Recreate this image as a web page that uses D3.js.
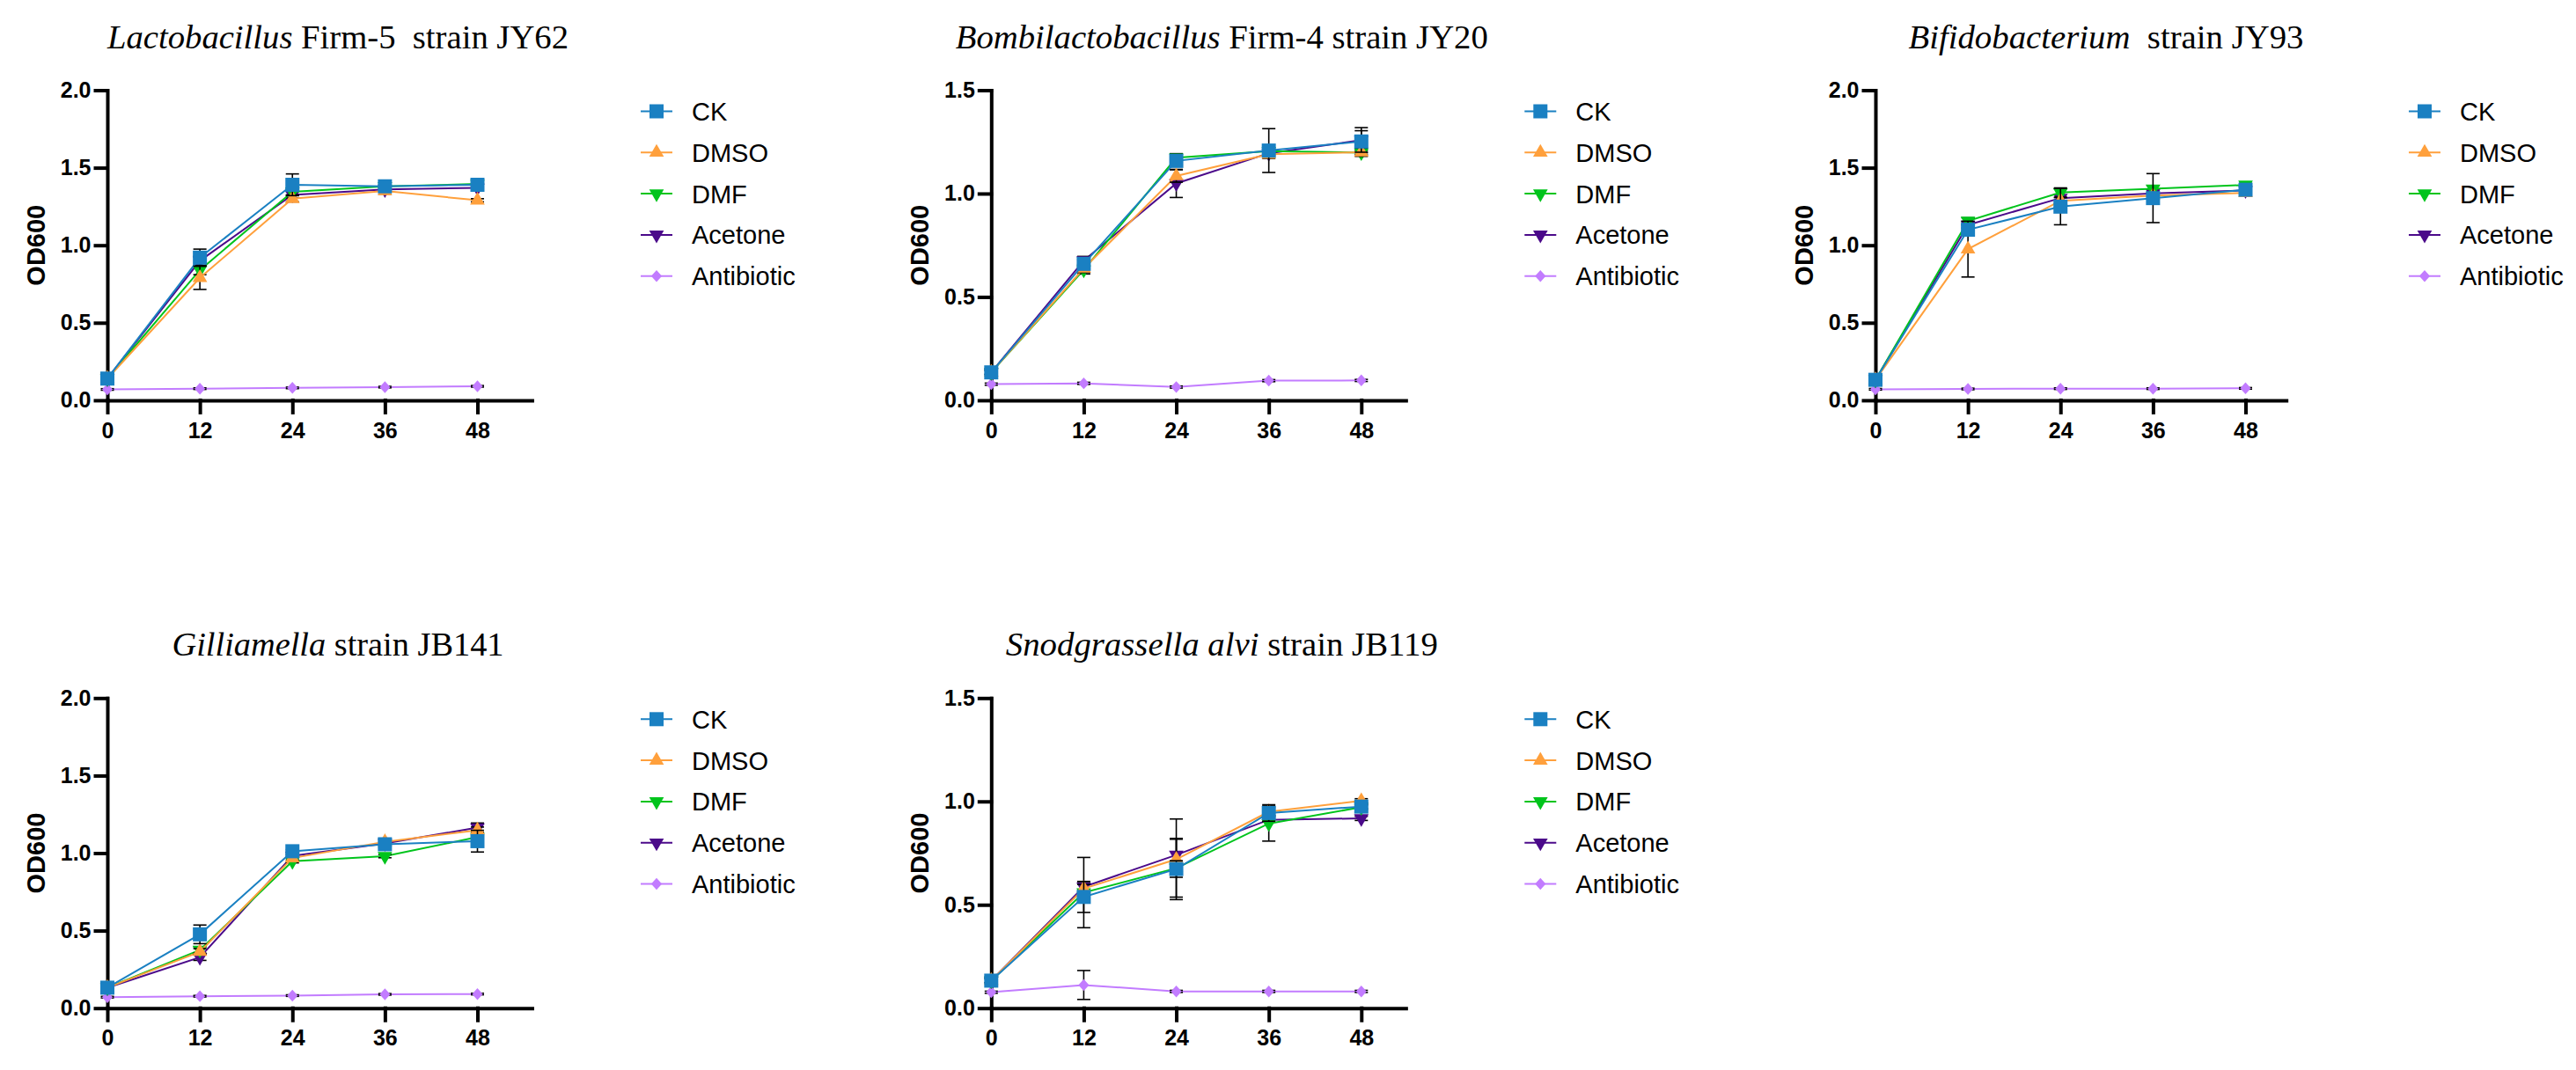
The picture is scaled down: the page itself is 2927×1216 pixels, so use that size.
<!DOCTYPE html>
<html>
<head>
<meta charset="utf-8">
<script src="https://cdn.jsdelivr.net/npm/d3@7"></script>
<style>
  body { margin: 0; background: #fff; }
  text { font-family: "Liberation Sans", Arial, sans-serif; }
</style>
</head>
<body>
<svg id="chart" width="2927" height="1216"></svg>
<script>
// ---- data ----
const hours = [0, 12, 24, 36, 48];
const seriesNames = ["CK", "DMSO", "DMF", "Acetone", "Antibiotic"];

const titleItalic = ["Lactobacillus", "Bombilactobacillus", "Bifidobacterium", "Gilliamella", "Snodgrassella alvi"];
const titleRest = [" Firm-5  strain JY62", " Firm-4 strain JY20", "  strain JY93", " strain JB141", " strain JB119"];
const yMax = [2.0, 1.5, 2.0, 2.0, 1.5];
const yTicks = [[0, 0.5, 1.0, 1.5, 2.0], [0, 0.5, 1.0, 1.5], [0, 0.5, 1.0, 1.5, 2.0], [0, 0.5, 1.0, 1.5, 2.0], [0, 0.5, 1.0, 1.5]];

// mean OD600, rows = CK, DMSO, DMF, Acetone, Antibiotic
const jy62 = [
  [0.14, 0.92, 1.39, 1.38, 1.39],
  [0.14, 0.79, 1.30, 1.35, 1.29],
  [0.14, 0.84, 1.345, 1.38, 1.395],
  [0.14, 0.90, 1.325, 1.36, 1.37],
  [0.07, 0.075, 0.08, 0.085, 0.09]
];
const jy62Sd = [
  [0.01, 0.055, 0.07, 0.01, 0.01],
  [0.01, 0.075, 0.02, 0.02, 0.01],
  [0.01, 0.03, 0.02, 0.01, 0.01],
  [0.01, 0.03, 0.02, 0.01, 0.01],
  [0.005, 0.005, 0.005, 0.005, 0.005]
];
const jy20 = [
  [0.135, 0.66, 1.158, 1.208, 1.252],
  [0.135, 0.638, 1.085, 1.19, 1.20],
  [0.135, 0.631, 1.173, 1.205, 1.198],
  [0.135, 0.676, 1.049, 1.195, 1.258],
  [0.078, 0.082, 0.064, 0.095, 0.096]
];
const jy20Sd = [
  [0.01, 0.02, 0.02, 0.106, 0.052],
  [0.01, 0.02, 0.03, 0.02, 0.02],
  [0.01, 0.02, 0.02, 0.01, 0.01],
  [0.01, 0.02, 0.068, 0.01, 0.061],
  [0.005, 0.005, 0.005, 0.005, 0.005]
];
const jy93 = [
  [0.132, 1.10, 1.249, 1.304, 1.358],
  [0.132, 0.975, 1.287, 1.32, 1.338],
  [0.132, 1.157, 1.34, 1.364, 1.389],
  [0.132, 1.131, 1.304, 1.334, 1.354],
  [0.071, 0.073, 0.075, 0.075, 0.077]
];
const jy93Sd = [
  [0.01, 0.03, 0.117, 0.158, 0.02],
  [0.01, 0.18, 0.02, 0.02, 0.01],
  [0.01, 0.02, 0.03, 0.02, 0.01],
  [0.01, 0.02, 0.06, 0.02, 0.01],
  [0.005, 0.005, 0.005, 0.005, 0.005]
];
const jb141 = [
  [0.132, 0.476, 1.012, 1.057, 1.077],
  [0.132, 0.364, 0.968, 1.073, 1.148],
  [0.132, 0.375, 0.947, 0.98, 1.103],
  [0.132, 0.328, 0.982, 1.063, 1.164],
  [0.071, 0.077, 0.081, 0.089, 0.091]
];
const jb141Sd = [
  [0.01, 0.06, 0.01, 0.02, 0.07],
  [0.01, 0.02, 0.02, 0.02, 0.02],
  [0.01, 0.02, 0.01, 0.01, 0.02],
  [0.01, 0.02, 0.01, 0.01, 0.03],
  [0.005, 0.005, 0.005, 0.005, 0.005]
];
const jb119 = [
  [0.133, 0.538, 0.673, 0.944, 0.975],
  [0.133, 0.578, 0.72, 0.95, 1.003],
  [0.133, 0.559, 0.677, 0.893, 0.972],
  [0.133, 0.587, 0.741, 0.911, 0.918],
  [0.077, 0.112, 0.081, 0.081, 0.081]
];
const jb119Sd = [
  [0.01, 0.075, 0.04, 0.04, 0.01],
  [0.01, 0.02, 0.195, 0.02, 0.01],
  [0.01, 0.17, 0.14, 0.085, 0.01],
  [0.01, 0.02, 0.08, 0.01, 0.01],
  [0.005, 0.07, 0.005, 0.005, 0.005]
];
const means = [jy62, jy20, jy93, jb141, jb119];
const sds = [jy62Sd, jy20Sd, jy93Sd, jb141Sd, jb119Sd];

// ---- layout / style ----
const colors = ["#1a80c2", "#ffa03c", "#00c41c", "#4b0a8a", "#c27cff"];
const colX = [122, 1126.3, 2131];
const rowTop = [102.5, 793.3];
const panelPos = [[0, 0], [1, 0], [2, 0], [0, 1], [1, 1]];
const xMaxCol = [55.3, 54, 53.5];
const titleWidths = [524, 605, 449, 377, 491];
const plotH = 352.4;
const pxPer48 = 420.5;

const diamond = {
  draw(ctx, size) {
    const h = Math.sqrt(size) * 0.55, w = Math.sqrt(size) * 0.5;
    ctx.moveTo(0, -h); ctx.lineTo(w, 0); ctx.lineTo(0, h); ctx.lineTo(-w, 0); ctx.closePath();
  }
};
const symbolFor = [
  d3.symbol(d3.symbolSquare, 256)(),
  d3.symbol(d3.symbolTriangle, 120)(),
  d3.symbol(d3.symbolTriangle, 120)(),
  d3.symbol(d3.symbolTriangle, 120)(),
  d3.symbol(diamond, 150)()
];
const symbolRot = [0, 0, 180, 180, 0];

const svg = d3.select("#chart");

means.forEach((panel, p) => {
  const [c, r] = panelPos[p];
  const ox = colX[c], top = rowTop[r];
  const xMax = xMaxCol[c];
  const x = d3.scaleLinear().domain([0, xMax]).range([0, pxPer48 * xMax / 48]);
  const y = d3.scaleLinear().domain([0, yMax[p]]).range([plotH, 0]);
  const g = svg.append("g").attr("transform", `translate(${ox},${top})`);

  // title
  const t = g.append("text")
    .attr("x", 262).attr("y", -48)
    .attr("text-anchor", "middle")
    .attr("textLength", titleWidths[p])
    .attr("lengthAdjust", "spacingAndGlyphs")
    .style("font-family", "'Liberation Serif', 'Times New Roman', serif")
    .style("font-size", "38px")
    .style("white-space", "pre");
  t.append("tspan").style("font-style", "italic").text(titleItalic[p]);
  t.append("tspan").text(titleRest[p]);

  // axes
  const yAxis = g.append("g")
    .call(d3.axisLeft(y).tickValues(yTicks[p]).tickFormat(d3.format(".1f"))
      .tickSize(13.5).tickSizeOuter(0).tickPadding(5));
  const xAxis = g.append("g").attr("transform", `translate(0,${plotH})`)
    .call(d3.axisBottom(x).tickValues(hours).tickFormat(d3.format("d"))
      .tickSize(14).tickSizeOuter(0).tickPadding(11));
  [yAxis, xAxis].forEach(a => {
    a.selectAll("path, line").attr("stroke", "#000").attr("stroke-width", 4).attr("stroke-linecap", "square");
    a.selectAll("text").attr("fill", "#000")
      .style("font-size", "25px").style("font-weight", "bold");
  });
  xAxis.selectAll("path").attr("stroke-linecap", "butt");

  g.append("text")
    .attr("transform", `translate(-71,${plotH / 2}) rotate(-90)`)
    .attr("text-anchor", "middle")
    .style("font-size", "29px").style("font-weight", "bold")
    .text("OD600");

  // series, drawn last-to-first so CK ends on top
  const line = d3.line().x((d, i) => x(hours[i])).y(d => y(d));
  for (let s = seriesNames.length - 1; s >= 0; s--) {
    const vals = panel[s], err = sds[p][s];
    g.append("path").datum(vals)
      .attr("fill", "none").attr("stroke", colors[s]).attr("stroke-width", 2)
      .attr("d", line);
    const eb = g.append("g").attr("stroke", "#000").attr("stroke-width", 1.6);
    vals.forEach((v, i) => {
      const cx = x(hours[i]), y1 = y(v - err[i]), y2 = y(v + err[i]);
      eb.append("line").attr("x1", cx).attr("x2", cx).attr("y1", y1).attr("y2", y2);
      eb.append("line").attr("x1", cx - 7.5).attr("x2", cx + 7.5).attr("y1", y1).attr("y2", y1);
      eb.append("line").attr("x1", cx - 7.5).attr("x2", cx + 7.5).attr("y1", y2).attr("y2", y2);
    });
    g.selectAll(null).data(vals).enter().append("path")
      .attr("d", symbolFor[s])
      .attr("fill", colors[s])
      .attr("transform", (d, i) => `translate(${x(hours[i])},${y(d)}) rotate(${symbolRot[s]})`);
  }

  // legend
  const lg = g.append("g").attr("transform", "translate(624,24)");
  seriesNames.forEach((name, s) => {
    const row = lg.append("g").attr("transform", `translate(0,${s * 46.8})`);
    row.append("line").attr("x1", -18).attr("x2", 18)
      .attr("stroke", colors[s]).attr("stroke-width", 2);
    row.append("path").attr("d", symbolFor[s]).attr("fill", colors[s])
      .attr("transform", `rotate(${symbolRot[s]})`);
    row.append("text").attr("x", 40).attr("dy", "0.36em")
      .style("font-size", "29px").text(name);
  });
});
</script>
</body>
</html>
